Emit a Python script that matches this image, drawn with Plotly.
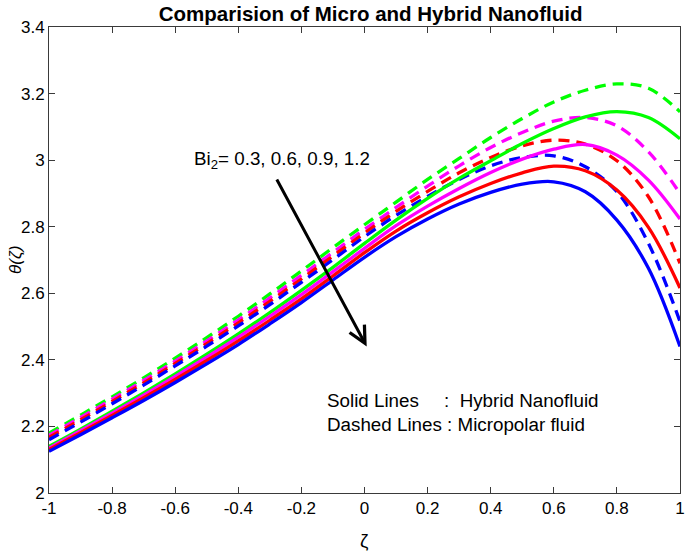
import plotly.graph_objects as go

# --- data ---
zeta = [-1.0, -0.9, -0.8, -0.7, -0.6, -0.5, -0.4, -0.3, -0.2, -0.1, 0.0,
        0.1, 0.2, 0.3, 0.4, 0.5, 0.6, 0.7, 0.8, 0.9, 1.0]

# Solid lines: Hybrid Nanofluid (Bi2 = 0.3, 0.6, 0.9, 1.2 -> green, magenta, red, blue)
hyb_green   = [2.140, 2.192, 2.246, 2.301, 2.358, 2.417, 2.478, 2.542, 2.609, 2.678, 2.750,
               2.820, 2.885, 2.945, 2.998, 3.050, 3.095, 3.130, 3.146, 3.128, 3.064]
hyb_magenta = [2.135, 2.187, 2.240, 2.294, 2.350, 2.408, 2.468, 2.531, 2.596, 2.665, 2.735,
               2.803, 2.862, 2.915, 2.963, 3.003, 3.033, 3.047, 3.015, 2.940, 2.823]
hyb_red     = [2.130, 2.181, 2.233, 2.286, 2.341, 2.398, 2.457, 2.519, 2.583, 2.652, 2.722,
               2.787, 2.842, 2.890, 2.930, 2.962, 2.982, 2.968, 2.910, 2.798, 2.616]
hyb_blue    = [2.125, 2.175, 2.226, 2.278, 2.332, 2.388, 2.446, 2.508, 2.572, 2.640, 2.708,
               2.770, 2.823, 2.868, 2.903, 2.928, 2.935, 2.905, 2.820, 2.675, 2.440]

# Dashed lines: Micropolar fluid
mic_green   = [2.180, 2.234, 2.289, 2.346, 2.405, 2.467, 2.531, 2.598, 2.667, 2.737, 2.806,
               2.874, 2.942, 3.005, 3.068, 3.125, 3.175, 3.210, 3.229, 3.216, 3.145]
mic_magenta = [2.173, 2.227, 2.282, 2.338, 2.396, 2.457, 2.520, 2.586, 2.654, 2.723, 2.792,
               2.858, 2.922, 2.983, 3.038, 3.083, 3.117, 3.128, 3.103, 3.025, 2.900]
mic_red     = [2.167, 2.220, 2.275, 2.331, 2.389, 2.449, 2.511, 2.576, 2.643, 2.712, 2.781,
               2.846, 2.906, 2.962, 3.008, 3.043, 3.060, 3.048, 2.998, 2.890, 2.690]
mic_blue    = [2.160, 2.213, 2.268, 2.324, 2.382, 2.441, 2.502, 2.566, 2.633, 2.701, 2.770,
               2.834, 2.891, 2.942, 2.983, 3.008, 3.013, 2.980, 2.905, 2.750, 2.515]

x_ticks = [-1, -0.8, -0.6, -0.4, -0.2, 0, 0.2, 0.4, 0.6, 0.8, 1]
x_tick_text = ["-1", "-0.8", "-0.6", "-0.4", "-0.2", "0", "0.2", "0.4", "0.6", "0.8", "1"]
y_ticks = [2, 2.2, 2.4, 2.6, 2.8, 3, 3.2, 3.4]
y_tick_text = ["2", "2.2", "2.4", "2.6", "2.8", "3", "3.2", "3.4"]

colors = {"green": "#00FF00", "magenta": "#FF00FF", "red": "#FF0000", "blue": "#0000FF"}

fig = go.Figure()

series = [
    ("green", mic_green, hyb_green),
    ("magenta", mic_magenta, hyb_magenta),
    ("red", mic_red, hyb_red),
    ("blue", mic_blue, hyb_blue),
]
for name, mic, hyb in series:
    fig.add_trace(go.Scatter(x=zeta, y=mic, mode="lines",
                             line=dict(color=colors[name], width=3.3, dash="11px,7px",
                                       shape="spline", smoothing=1),
                             showlegend=False))
for name, mic, hyb in series:
    fig.add_trace(go.Scatter(x=zeta, y=hyb, mode="lines",
                             line=dict(color=colors[name], width=3.3, shape="spline", smoothing=1),
                             showlegend=False))

font_family = "Liberation Sans, Arial, sans-serif"
axis_color = "#3a3a3a"

fig.update_layout(
    width=685, height=552,
    margin=dict(l=49, r=5, t=27, b=59),
    paper_bgcolor="white", plot_bgcolor="white",
    font=dict(family=font_family, size=17, color="black"),
    title=dict(text="<b>Comparision of Micro and Hybrid Nanofluid</b>",
               x=0.541, xanchor="center", y=0.975, yanchor="middle",
               font=dict(size=20.5, family=font_family, color="black")),
    xaxis=dict(range=[-1, 1], tickvals=x_ticks, ticktext=x_tick_text, automargin=False,
               ticklabeloverflow="allow",
               showgrid=False, zeroline=False, showline=True, linecolor=axis_color, linewidth=1,
               mirror="ticks", ticks="inside", ticklen=6, tickcolor=axis_color),
    yaxis=dict(range=[2, 3.4], tickvals=y_ticks, ticktext=y_tick_text, automargin=False,
               ticklabeloverflow="allow",
               showgrid=False, zeroline=False, showline=True, linecolor=axis_color, linewidth=1,
               mirror="ticks", ticks="inside", ticklen=6, tickcolor=axis_color),
)

# axis titles
fig.add_annotation(x=0.5, y=-0.103, xref="paper", yref="paper", xanchor="center", yanchor="middle",
                   text="ζ", showarrow=False, font=dict(size=19, family=font_family, color="black"))
fig.add_annotation(x=-0.054, y=0.5, xref="paper", yref="paper", xanchor="center", yanchor="middle",
                   textangle=-90, text="<i>θ(ζ)</i>", showarrow=False,
                   font=dict(size=17, family=font_family, color="black"))

# arrow
fig.add_annotation(x=0.007, y=2.44, ax=-0.2805, ay=2.9465, xref="x", yref="y", axref="x", ayref="y",
                   showarrow=True, arrowhead=5, arrowsize=1.1, arrowwidth=3, arrowcolor="black", text="")

fig.add_annotation(x=-0.547, y=3.0, xref="x", yref="y", xanchor="left", yanchor="middle",
                   text="Bi<sub>2</sub>= 0.3, 0.6, 0.9, 1.2", showarrow=False,
                   font=dict(size=18.8, family=font_family, color="black"))

fig.add_annotation(x=-0.125, y=2.277, xref="x", yref="y", xanchor="left", yanchor="middle",
                   text="Solid Lines", showarrow=False,
                   font=dict(size=18.8, family=font_family, color="black"))
fig.add_annotation(x=0.247, y=2.277, xref="x", yref="y", xanchor="left", yanchor="middle",
                   text=":\u00a0\u00a0Hybrid Nanofluid", showarrow=False,
                   font=dict(size=18.8, family=font_family, color="black"))
fig.add_annotation(x=-0.125, y=2.207, xref="x", yref="y", xanchor="left", yanchor="middle",
                   text="Dashed Lines : Micropolar fluid", showarrow=False,
                   font=dict(size=18.8, family=font_family, color="black"))

fig.write_html("out.html", config={"displayModeBar": False},
               post_script="document.body.style.margin='0px';")
